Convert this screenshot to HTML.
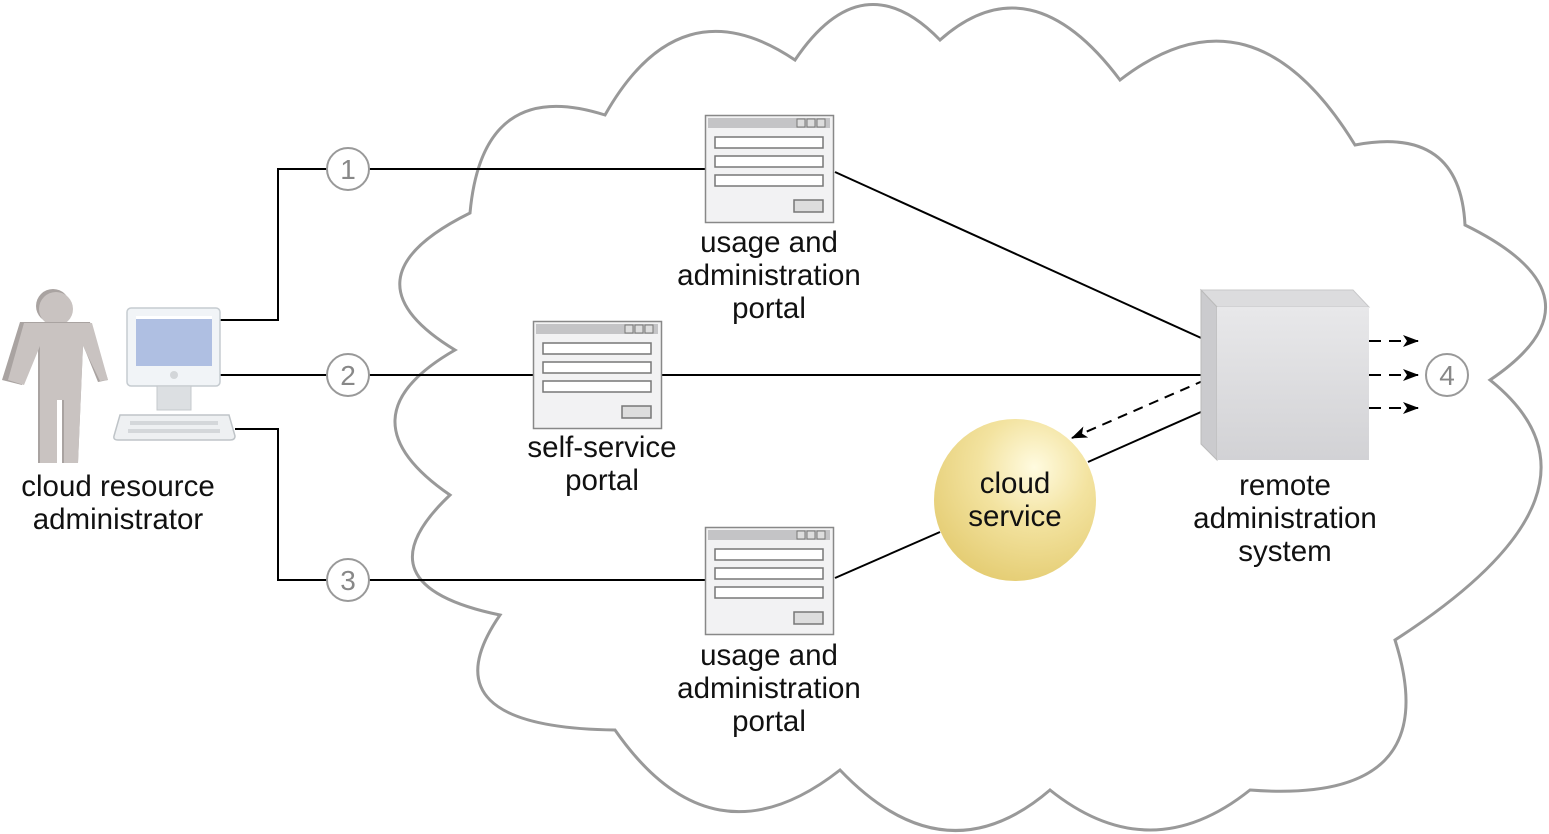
<!DOCTYPE html>
<html><head><meta charset="utf-8"><style>
html,body{margin:0;padding:0;background:#fff}
svg{display:block}
text{font-family:"Liberation Sans",Arial,sans-serif;font-size:29.5px;fill:#111;text-anchor:middle}
</style></head><body>
<svg width="1549" height="834" viewBox="0 0 1549 834" xmlns="http://www.w3.org/2000/svg">
<defs>
<radialGradient id="cs" cx="0.62" cy="0.3" r="0.75">
<stop offset="0" stop-color="#fffbe0"/><stop offset="0.45" stop-color="#f3e3a0"/><stop offset="1" stop-color="#e4cc72"/>
</radialGradient>
<linearGradient id="front" x1="0" y1="0" x2="0" y2="1"><stop offset="0" stop-color="#e8e8ea"/><stop offset="1" stop-color="#d2d2d5"/></linearGradient>
<marker id="ah" markerWidth="16" markerHeight="12" refX="15" refY="6" orient="auto" markerUnits="userSpaceOnUse">
<path d="M0,0 L16,6 L0,12 L4,6 z" fill="#000"/></marker>
<g id="portal">
<rect x="0.5" y="0.5" width="128" height="107" fill="#f2f2f3" stroke="#888" stroke-width="1.5"/>
<rect x="3" y="3" width="122" height="10" fill="#c4c4c6"/>
<rect x="92" y="4" width="8" height="8" fill="#ddd" stroke="#777"/>
<rect x="102" y="4" width="8" height="8" fill="#ddd" stroke="#777"/>
<rect x="112" y="4" width="8" height="8" fill="#ddd" stroke="#777"/>
<rect x="10" y="22" width="108" height="11" fill="#fff" stroke="#777" stroke-width="1.5"/>
<rect x="10" y="41" width="108" height="11" fill="#fff" stroke="#777" stroke-width="1.5"/>
<rect x="10" y="60" width="108" height="11" fill="#fff" stroke="#777" stroke-width="1.5"/>
<rect x="89" y="85" width="29" height="12" fill="#ddd" stroke="#777" stroke-width="1.5"/>
</g>
</defs>
<path d="M455,350 Q337.5,278.5 470,213 Q482.5,76 605,115 Q680,-17.5 795,60 Q862.5,-40 940,40 Q1030,-40 1120,80 Q1252.5,-22.5 1355,145 Q1460,125 1465,225 Q1612.5,297.5 1490,380 Q1627.5,490 1395,640 Q1447.5,805 1250,790 Q1150,870 1050,790 Q945,880 840,770 Q712.5,870 615,730 Q422.5,727.5 500,615 Q355,585 450,495 Q337.5,417.5 455,350 Z" fill="#fff" stroke="#999" stroke-width="3"/>
<g stroke="#000" stroke-width="2" fill="none">
<polyline points="220,320 278,320 278,169 705,169"/>
<line x1="220" y1="375" x2="533" y2="375"/>
<line x1="662" y1="375" x2="1207" y2="375"/>
<polyline points="235,429 278,429 278,580 705,580"/>
<line x1="835" y1="172" x2="1210" y2="342"/>
<line x1="835" y1="578" x2="940" y2="532"/>
<line x1="1088" y1="462" x2="1210" y2="408"/>
<line x1="1205" y1="380" x2="1072" y2="438" stroke-dasharray="10,7" marker-end="url(#ah)"/>
<line x1="1369" y1="341" x2="1418" y2="341" stroke-dasharray="12,8" marker-end="url(#ah)"/>
<line x1="1369" y1="375" x2="1418" y2="375" stroke-dasharray="12,8" marker-end="url(#ah)"/>
<line x1="1369" y1="408" x2="1418" y2="408" stroke-dasharray="12,8" marker-end="url(#ah)"/>
</g>
<g fill="#fff" stroke="#999" stroke-width="2">
<circle cx="348" cy="169" r="21"/><circle cx="348" cy="375" r="21"/><circle cx="348" cy="580" r="21"/><circle cx="1447" cy="375" r="21"/>
</g>
<text x="348" y="179" style="fill:#888;font-size:28px">1</text>
<text x="348" y="385" style="fill:#888;font-size:28px">2</text>
<text x="348" y="590" style="fill:#888;font-size:28px">3</text>
<text x="1447" y="385" style="fill:#888;font-size:28px">4</text>
<use href="#portal" x="705" y="115"/>
<use href="#portal" x="533" y="321"/>
<use href="#portal" x="705" y="527"/>
<polygon points="1201,290 1353,290 1369,307 1217,307" fill="#dcdcde" stroke="#c8c8ca"/>
<polygon points="1201,290 1217,307 1217,460 1201,444" fill="#cbcbce" stroke="#bbb"/>
<rect x="1217" y="307" width="152" height="153" fill="url(#front)"/>
<circle cx="1015" cy="500" r="81" fill="url(#cs)"/>
<g fill="#c9c3c1">
<circle cx="53" cy="306" r="17" fill="#a9a3a1"/>
<circle cx="56" cy="309" r="17"/>
<polygon points="20,322 90,322 108,380 98,382 83,345 78,463 62,463 62,400 55,400 55,463 38,463 38,345 22,385 2,380" fill="#a9a3a1"/>
<polygon points="24,323 92,323 108,380 100,381 83,346 78,463 64,463 64,400 57,400 57,463 40,463 40,346 24,385 8,380"/>
</g>
<rect x="127" y="308" width="93" height="78" rx="4" fill="#f1f4f7" stroke="#c5cbd0" stroke-width="1.5"/>
<rect x="136" y="316" width="76" height="50" fill="#afbfe2"/>
<rect x="136" y="316" width="76" height="3" fill="#fff"/>
<circle cx="174" cy="375" r="4" fill="#d3d6d9"/>
<rect x="157" y="386" width="34" height="24" fill="#dcdfe2" stroke="#c5c9cc"/>
<path d="M120,415 L229,415 L235,436 Q235,440 230,440 L118,440 Q113,440 114,436 Z" fill="#eef0f2" stroke="#bfc4c8" stroke-width="1.5"/>
<g fill="#d4d7da">
<rect x="130" y="421" width="88" height="4"/><rect x="128" y="429" width="92" height="4"/>
</g>
<text x="769" y="252">usage and</text>
<text x="769" y="285">administration</text>
<text x="769" y="318">portal</text>
<text x="602" y="457">self-service</text>
<text x="602" y="490">portal</text>
<text x="769" y="665">usage and</text>
<text x="769" y="698">administration</text>
<text x="769" y="731">portal</text>
<text x="118" y="496">cloud resource</text>
<text x="118" y="529">administrator</text>
<text x="1285" y="495">remote</text>
<text x="1285" y="528">administration</text>
<text x="1285" y="561">system</text>
<text x="1015" y="493">cloud</text>
<text x="1015" y="526">service</text>
</svg>
</body></html>
